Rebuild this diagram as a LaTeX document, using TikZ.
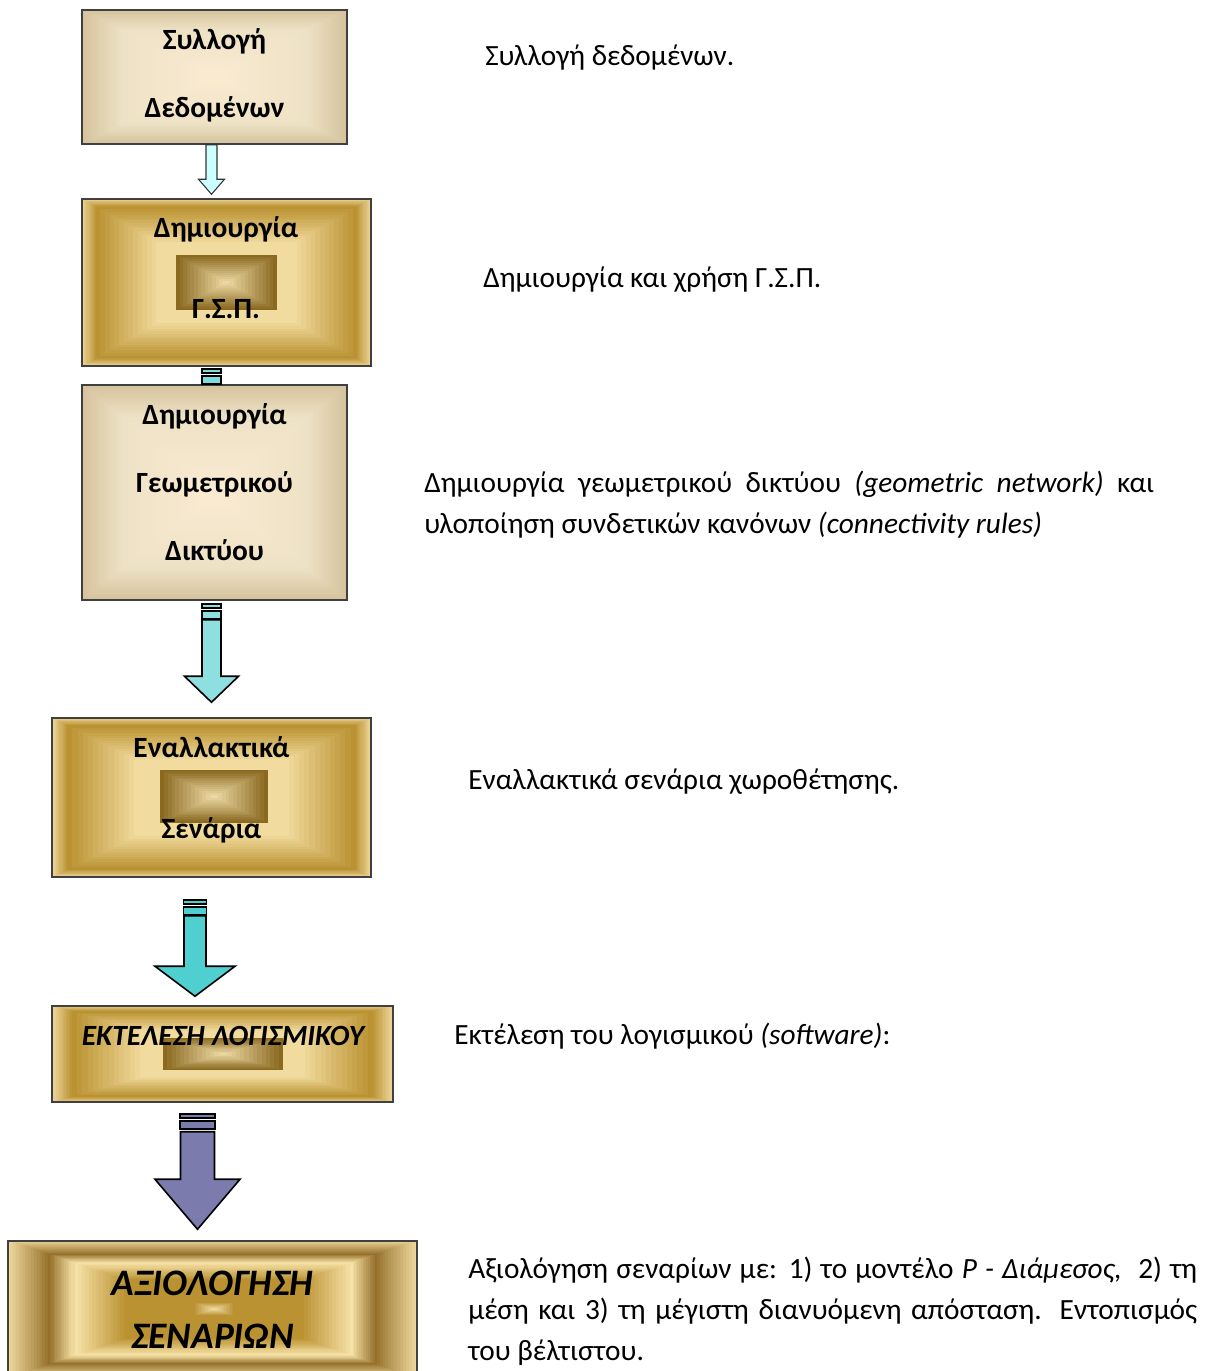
\documentclass[tikz,border=0pt]{standalone}
\usepackage{fontspec}
\setmainfont{Carlito}
\usetikzlibrary{calc,fit,backgrounds}

\definecolor{beigeEdge}{HTML}{D4C39C}
\definecolor{beigeLt}{HTML}{EEE2C6}
\definecolor{beigeMid}{HTML}{FBEBD2}
\definecolor{goldEdge}{HTML}{EFD89E}
\definecolor{goldDark}{HTML}{BA9232}
\definecolor{goldPale}{HTML}{F6E1A6}
\definecolor{brownDark}{HTML}{94702A}
\definecolor{innerDark}{HTML}{8A6921}
\definecolor{innerLight}{HTML}{F3E0AC}
\definecolor{cyanPale}{HTML}{CCFFFF}
\definecolor{cyanMid}{HTML}{8EE0E0}
\definecolor{cyanDeep}{HTML}{4FCFD0}
\definecolor{slateArrow}{HTML}{7B7BAE}

\tikzset{
  boxframe/.style={draw=black!75, line width=1.1pt, inner sep=0pt},
  boxtext/.style={font=\bfseries\fontsize{22}{51}\selectfont, align=center, inner sep=0pt, anchor=base},
  sidetext/.style={font=\fontsize{22}{30.75}\selectfont, inner sep=0pt, anchor=base west},
  arrowline/.style={draw=black, line width=1.2pt, line join=miter},
}

% nested rectangles, from the edge (t=0) to the centre (t=1)
\newcommand\rectgrad[3]{%
  \coordinate (rgc) at ($(#1)!0.5!(#2)$);
  \foreach \ta/\tb/\ca/\cb in {#3}{%
    \foreach \k in {0,...,13}{%
      \pgfmathsetmacro\rgt{\ta+(\tb-\ta)*\k/14}%
      \pgfmathsetmacro\rgp{100-100*\k/14}%
      \fill[\ca!\rgp!\cb] ($(#1)!\rgt!(rgc)$) rectangle ($(#2)!\rgt!(rgc)$);
    }}}

% block arrow: style, start, shaft offset, tip, half shaft, half head, head length
\newcommand\blockarrow[7]{%
  \draw[#1] ($(#2)+(-#5,#3)$) -- ($(#4)+(-#5,-#7)$) -- ($(#4)+(-#6,-#7)$) -- (#4)
    -- ($(#4)+(#6,-#7)$) -- ($(#4)+(#5,-#7)$) -- ($(#2)+(#5,#3)$) -- cycle;}

% the two small bars on top of an arrow
\newcommand\arrowbars[3]{%
  \draw[#1] ($(#2)+(-#3,0)$) rectangle ($(#2)+(#3,4)$);
  \draw[#1] ($(#2)+(-#3,7)$) rectangle ($(#2)+(#3,15)$);}

\begin{document}
\begin{tikzpicture}[x=0.75pt,y=0.75pt,yscale=-1,xscale=1]
\useasboundingbox (0,0) rectangle (1206,1371);
\clip (0,0) rectangle (1206,1371);

%Shape: boxes
\node[boxframe, fit={(82,10) (347,144)}] (boxA) {};
\node[boxframe, fit={(82,199) (371,366)}] (boxB) {};
\node[boxframe, fit={(82,385) (347,600)}] (boxC) {};
\node[boxframe, fit={(52,718) (371,877)}] (boxD) {};
\node[boxframe, fit={(52,1006) (393,1102)}] (boxE) {};
\node[boxframe, fit={(8,1241) (417,1377)}] (boxF) {};

%inner panels
\coordinate (inB1) at (176,255);  \coordinate (inB2) at (277,310);
\coordinate (inD1) at (160,770);  \coordinate (inD2) at (268,823);
\coordinate (inE1) at (163,1038); \coordinate (inE2) at (283,1070);
\coordinate (inF1) at (75,1263);  \coordinate (inF2) at (353,1355);

\begin{pgfonlayer}{background}
\rectgrad{boxA.north west}{boxA.south east}{0/0.3/beigeEdge/beigeLt, 0.3/1/beigeLt/beigeMid}
\rectgrad{boxC.north west}{boxC.south east}{0/0.3/beigeEdge/beigeLt, 0.3/1/beigeLt/beigeMid}
\rectgrad{boxB.north west}{boxB.south east}{0/0.1/goldEdge/goldDark, 0.1/0.55/goldDark/goldPale}
\rectgrad{inB1}{inB2}{0/1/innerDark/innerLight}
\rectgrad{boxD.north west}{boxD.south east}{0/0.1/goldEdge/goldDark, 0.1/0.55/goldDark/goldPale}
\rectgrad{inD1}{inD2}{0/1/innerDark/innerLight}
\rectgrad{boxE.north west}{boxE.south east}{0/0.12/goldEdge/goldDark, 0.12/0.55/goldDark/goldPale}
\rectgrad{inE1}{inE2}{0/1/innerDark/innerLight}
\rectgrad{boxF.north west}{boxF.south east}{0/0.2/goldEdge/brownDark, 0.2/0.32/brownDark/goldPale}
\rectgrad{inF1}{inF2}{0/0.35/goldPale/goldDark, 0.35/0.85/goldDark/goldDark, 0.85/1/goldDark/innerLight}
\end{pgfonlayer}

%Text in boxes (base = last line)
\node[boxtext] (tA) at (214.5,117) {Συλλογή\\Δεδομένων};
\node[boxtext, font=\bfseries\fontsize{22}{60.75}\selectfont] (tB) at (226,318) {Δημιουργία\\Γ.Σ.Π.};
\node[boxtext] (tC) at (214.5,560) {Δημιουργία\\Γεωμετρικού\\Δικτύου};
\node[boxtext, font=\bfseries\fontsize{22}{60.75}\selectfont] (tD) at (211.5,838) {Εναλλακτικά\\Σενάρια};
\node[boxtext, font=\bfseries\itshape\fontsize{22}{26}\selectfont] (tE) at (223,1045) {ΕΚΤΕΛΕΣΗ ΛΟΓΙΣΜΙΚΟΥ};
\node[boxtext, font=\bfseries\itshape\fontsize{28}{39.75}\selectfont] (tF) at (212.5,1348) {ΑΞΙΟΛΟΓΗΣΗ\\ΣΕΝΑΡΙΩΝ};

%Arrows
\coordinate (a1s) at ($(boxA.south)+(-3,0)$);
\coordinate (a1e) at ($(a1s |- boxB.north)+(0,-4)$);
\coordinate (a2s) at ($(boxB.south)+(-15,2)$);
\coordinate (a3s) at ($(boxC.south)+(-3,3)$);
\coordinate (a3e) at ($(a3s |- boxD.north)+(0,-15)$);
\coordinate (a4s) at ($(boxD.south)+(-16.5,22)$);
\coordinate (a4e) at ($(a4s |- boxE.north)+(0,-9)$);
\coordinate (a5s) at ($(boxE.south)+(-25,11)$);
\coordinate (a5e) at ($(a5s |- boxF.north)+(0,-11)$);

\blockarrow{draw=black!80, line width=0.8pt, fill=cyanPale}{a1s}{0}{a1e}{5.5}{13}{15}
\arrowbars{arrowline, fill=cyanMid!80!cyanDeep}{a2s}{9.5}
\arrowbars{arrowline, fill=cyanMid}{a3s}{9.5}
\blockarrow{arrowline, fill=cyanMid}{a3s}{16}{a3e}{9.5}{27}{26}
\arrowbars{arrowline, fill=cyanDeep}{a4s}{11.5}
\blockarrow{arrowline, fill=cyanDeep}{a4s}{16}{a4e}{11}{40}{30}
\arrowbars{arrowline, fill=slateArrow}{a5s}{17.5}
\blockarrow{arrowline, fill=slateArrow}{a5s}{18}{a5e}{17}{42.5}{50}

% Text Node
\node[sidetext] (sA) at (485,65.5) {Συλλογή δεδομένων.};
% Text Node
\node[sidetext] (sB) at (483,287.5) {Δημιουργία και χρήση Γ.Σ.Π.};
% Text Node
\node[sidetext, text width=547.5pt, align=justify] (sC) at (424,492.5) {Δημιουργία γεωμετρικού δικτύου \textit{(geometric network)} και\linebreak υλοποίηση συνδετικών κανόνων \textit{(connectivity rules)}};
% Text Node
\node[sidetext] (sD) at (468,789.5) {Εναλλακτικά σενάρια χωροθέτησης.};
% Text Node
\node[sidetext] (sE) at (454,1044.5) {Εκτέλεση του λογισμικού \textit{(software)}:};
% Text Node
\node[sidetext, text width=546.75pt, align=justify] (sF) at (468,1278.5) {Αξιολόγηση σεναρίων με: 1) το μοντέλο \textit{P - Διάμεσος,}\ \ 2) τη\linebreak μέση και 3) τη μέγιστη διανυόμενη απόσταση. Εντοπισμός\linebreak του βέλτιστου.};

\end{tikzpicture}
\end{document}
